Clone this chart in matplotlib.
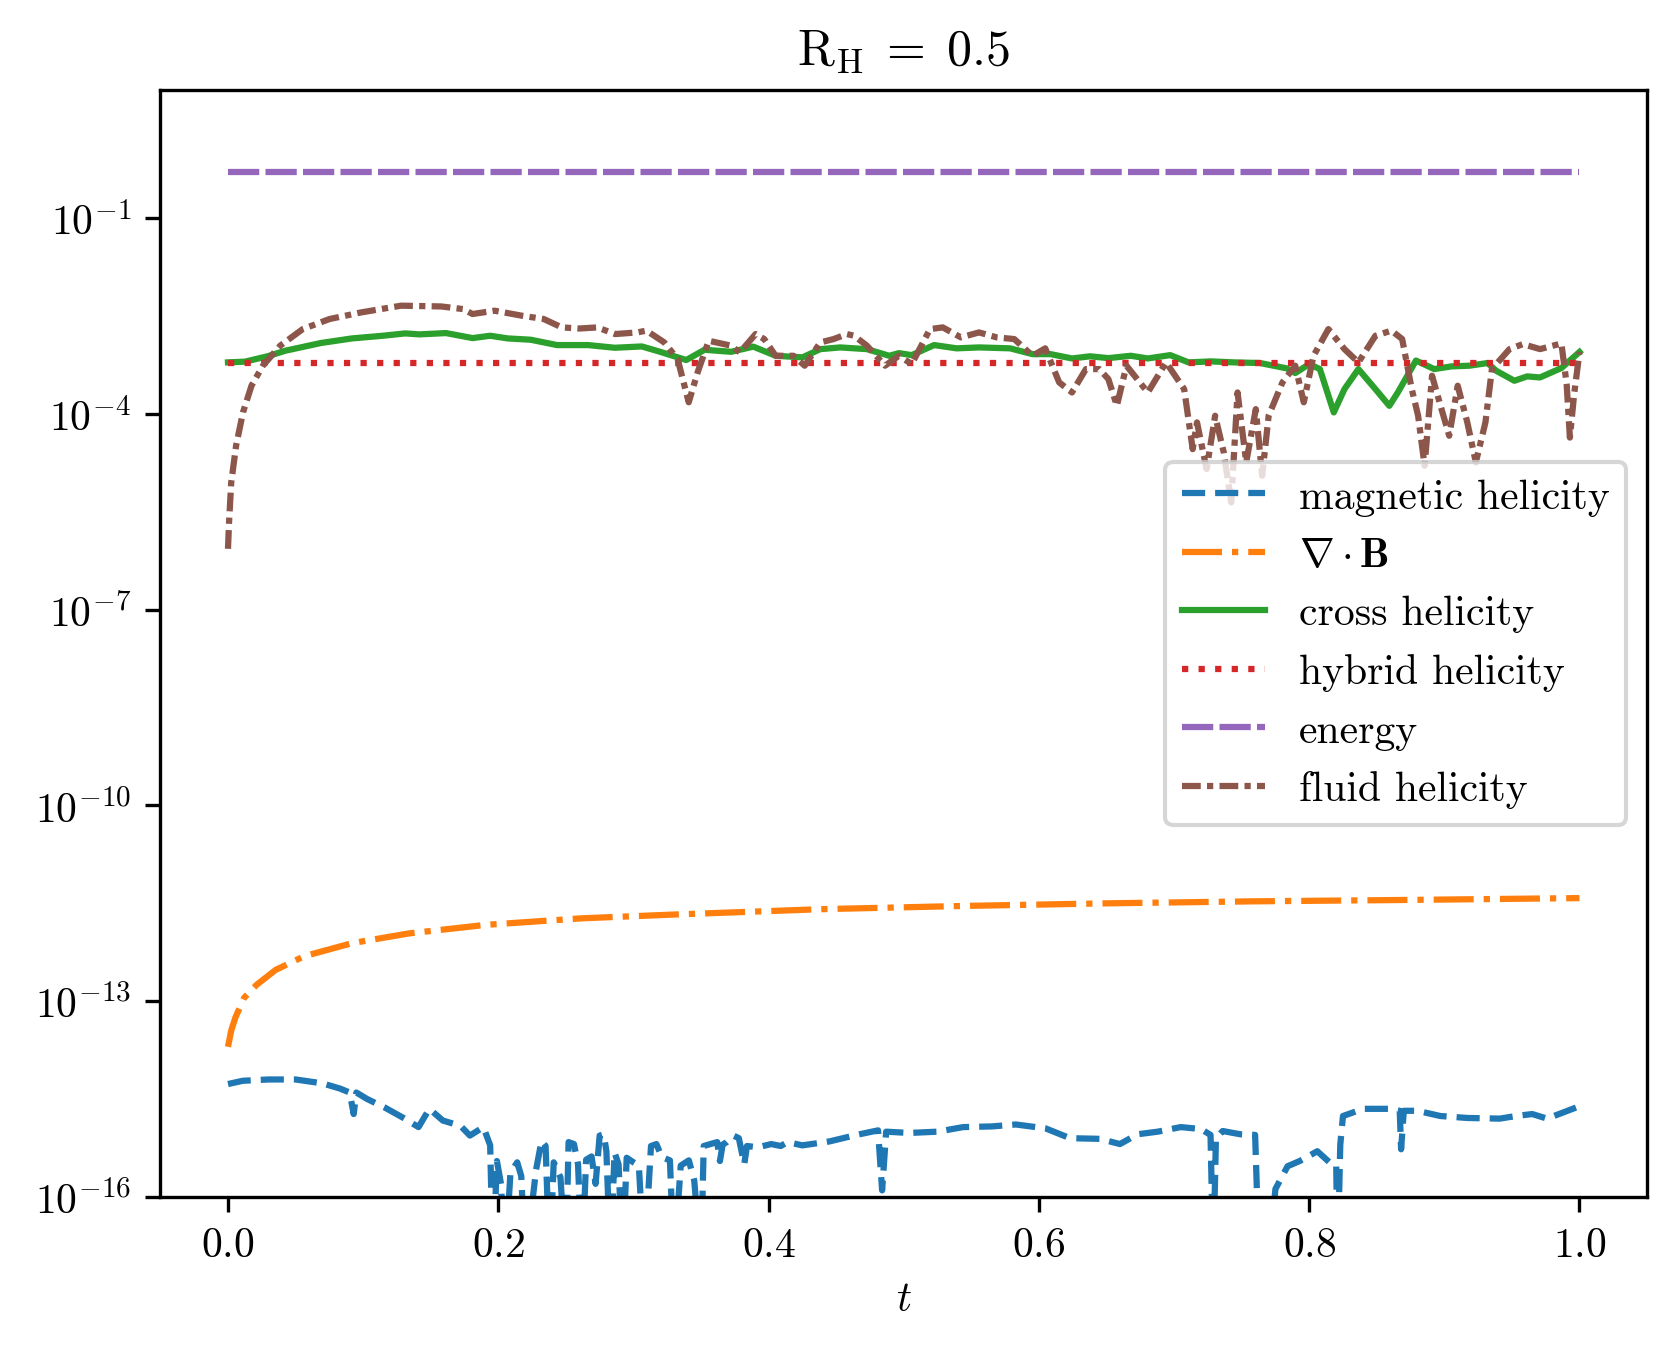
import numpy as np
import matplotlib
matplotlib.use('Agg')
import matplotlib.pyplot as plt
from matplotlib.ticker import FuncFormatter, NullLocator

plt.rcParams['font.family'] = 'serif'
plt.rcParams['font.serif'] = ['cmr10']
plt.rcParams['mathtext.fontset'] = 'cm'
plt.rcParams['axes.formatter.use_mathtext'] = True

# values, stored as log10 of the quantity
t_mag = [0.0, 0.011, 0.030, 0.050, 0.070, 0.083, 0.090, 0.093, 0.095, 0.103, 0.116, 0.129, 0.141,
         0.149, 0.159, 0.172, 0.179, 0.189, 0.194, 0.196, 0.199, 0.202, 0.205, 0.209, 0.214, 0.217,
         0.220, 0.228, 0.232, 0.235, 0.238, 0.241, 0.246, 0.250, 0.252, 0.256, 0.259, 0.262, 0.265,
         0.269, 0.272, 0.275, 0.278, 0.280, 0.283, 0.286, 0.289, 0.292, 0.295, 0.300, 0.304, 0.308,
         0.313, 0.317, 0.321, 0.327, 0.330, 0.335, 0.341, 0.345, 0.350, 0.352, 0.357, 0.362, 0.364,
         0.366, 0.369, 0.374, 0.378, 0.382, 0.384, 0.392, 0.402, 0.409, 0.414, 0.425, 0.445, 0.465,
         0.481, 0.484, 0.487, 0.504, 0.525, 0.544, 0.565, 0.583, 0.605, 0.623, 0.645, 0.660, 0.673,
         0.688, 0.705, 0.720, 0.727, 0.729, 0.731, 0.736, 0.749, 0.760, 0.763, 0.770, 0.775, 0.784,
         0.793, 0.806, 0.815, 0.820, 0.821, 0.823, 0.825, 0.840, 0.860, 0.867, 0.868, 0.870, 0.880,
         0.897, 0.917, 0.941, 0.953, 0.965, 0.976, 1.0]
log_mag = [-14.27, -14.22, -14.20, -14.20, -14.26, -14.34, -14.40, -14.73, -14.40, -14.50, -14.63,
           -14.78, -14.93, -14.65, -14.83, -14.91, -15.06, -14.93, -15.21, -17, -15.45, -15.8, -17,
           -15.63, -15.47, -15.68, -17, -15.58, -15.14, -15.22, -17, -15.47, -15.7, -17, -15.16,
           -15.19, -15.5, -17, -15.43, -15.38, -15.8, -15.06, -15.04, -15.3, -17, -15.32, -15.5, -17,
           -15.4, -15.47, -15.52, -17, -15.22, -15.19, -15.39, -15.44, -17, -15.52, -15.44, -15.75,
           -17, -15.22, -15.19, -15.16, -15.45, -15.2, -15.16, -15.06, -15.1, -15.5, -15.22, -15.24,
           -15.19, -15.22, -15.16, -15.21, -15.15, -15.05, -14.98, -15.9, -15.0, -15.02, -15.0,
           -14.93, -14.92, -14.89, -14.95, -15.10, -15.11, -15.19, -15.04, -15.0, -14.93, -14.96,
           -15.05, -17, -15.1, -14.99, -15.04, -15.05, -17, -17, -15.88, -15.53, -15.45, -15.3,
           -15.47, -15.5, -17, -15.2, -14.76, -14.65, -14.65, -14.68, -15.27, -14.68, -14.68, -14.76,
           -14.79, -14.8, -14.76, -14.73, -14.8, -14.61]

t_divb = [0.0, 0.0024, 0.0055, 0.0119, 0.0211, 0.0353, 0.0565, 0.0919, 0.1343, 0.1908, 0.2616,
          0.3323, 0.4384, 0.5445, 0.6506, 0.7567, 0.8628, 1.0]
log_divb = [-13.70, -13.45, -13.25, -12.95, -12.75, -12.52, -12.31, -12.11, -11.96, -11.83, -11.73,
            -11.67, -11.59, -11.54, -11.50, -11.47, -11.45, -11.42]

t_cross = [0.0, 0.0126, 0.0292, 0.0423, 0.0688, 0.0917, 0.1146, 0.1312, 0.1415, 0.1613, 0.181,
           0.194, 0.207, 0.224, 0.2435, 0.2664, 0.2862, 0.3062, 0.3194, 0.3391, 0.3526, 0.3723,
           0.3887, 0.4052, 0.4251, 0.4383, 0.4530, 0.4727, 0.4893, 0.4964, 0.5059, 0.5225, 0.5391,
           0.5557, 0.5787, 0.5953, 0.6087, 0.6245, 0.6379, 0.6514, 0.668, 0.6806, 0.6972, 0.7107,
           0.7273, 0.7439, 0.7636, 0.7834, 0.7897, 0.8, 0.8079, 0.8182, 0.8261, 0.8364, 0.849,
           0.8593, 0.8656, 0.879, 0.8925, 0.9051, 0.9186, 0.932, 0.9383, 0.9518, 0.9613, 0.9708,
           0.9866, 1.0]
log_cross = [-3.208, -3.197, -3.115, -3.030, -2.911, -2.841, -2.800, -2.764, -2.779, -2.759, -2.836,
             -2.800, -2.841, -2.861, -2.943, -2.943, -2.984, -2.964, -3.044, -3.172, -3.015, -3.046,
             -2.967, -3.107, -3.131, -3.005, -2.979, -3.005, -3.107, -3.066, -3.097, -2.943, -2.993,
             -2.979, -2.993, -3.082, -3.082, -3.148, -3.115, -3.143, -3.107, -3.148, -3.097, -3.208,
             -3.193, -3.208, -3.218, -3.300, -3.372, -3.234, -3.311, -3.975, -3.618, -3.311, -3.618,
             -3.874, -3.669, -3.180, -3.311, -3.270, -3.259, -3.218, -3.336, -3.490, -3.423, -3.439,
             -3.295, -3.049]

t_fluid = [0.0, 0.0008, 0.0024, 0.006, 0.0111, 0.0174, 0.0258, 0.0387, 0.0553, 0.0751, 0.0983,
           0.1281, 0.1578, 0.1742, 0.1809, 0.1973, 0.2172, 0.2337, 0.2469, 0.2601, 0.2732, 0.2865,
           0.3029, 0.3096, 0.3228, 0.3327, 0.3409, 0.3475, 0.3557, 0.3723, 0.3787, 0.3904, 0.3968,
           0.4052, 0.4184, 0.4267, 0.4383, 0.4481, 0.458, 0.4632, 0.4727, 0.4862, 0.4964, 0.5059,
           0.5194, 0.5289, 0.5423, 0.5557, 0.5688, 0.5818, 0.5953, 0.6047, 0.615, 0.6245, 0.6348,
           0.6447, 0.6514, 0.6577, 0.6648, 0.6806, 0.6941, 0.7075, 0.7138, 0.717, 0.7241, 0.7304,
           0.7368, 0.7423, 0.747, 0.7534, 0.7605, 0.7652, 0.77, 0.7802, 0.7897, 0.796, 0.8032,
           0.8142, 0.8261, 0.8364, 0.849, 0.8609, 0.8688, 0.8759, 0.8806, 0.8854, 0.8909, 0.8972,
           0.9036, 0.9099, 0.917, 0.9233, 0.9304, 0.9352, 0.9482, 0.9581, 0.9708, 0.9866, 0.9905,
           0.9929, 0.996, 1.0]
log_fluid = [-6.066, -5.656, -5.049, -4.485, -3.975, -3.566, -3.259, -2.951, -2.698, -2.544, -2.443,
             -2.339, -2.351, -2.392, -2.467, -2.416, -2.492, -2.544, -2.672, -2.689, -2.672, -2.774,
             -2.749, -2.721, -2.902, -3.157, -3.820, -3.361, -2.877, -2.952, -3.056, -2.774, -2.851,
             -3.107, -3.107, -3.259, -2.902, -2.851, -2.774, -2.800, -2.951, -3.259, -3.107, -3.234,
             -2.698, -2.672, -2.825, -2.749, -2.825, -2.851, -3.107, -2.993, -3.515, -3.669, -3.311,
             -3.311, -3.464, -3.874, -3.259, -3.669, -3.208, -3.618, -4.538, -4.128, -4.844, -4.026,
             -4.589, -5.354, -3.669, -4.741, -3.925, -4.946, -4.026, -3.515, -3.259, -3.820, -3.107,
             -2.698, -3.005, -3.208, -2.800, -2.721, -2.851, -3.618, -4.026, -4.793, -3.413, -3.874,
             -4.333, -3.566, -4.128, -4.741, -4.128, -3.311, -3.005, -2.928, -3.005, -2.918, -3.541,
             -4.361, -3.705, -3.049]

t_const = [0.0, 1.0]
hybrid = [6.1e-4, 6.1e-4]
energy = [0.507, 0.507]

ytick_exps = [-16, -13, -10, -7, -4, -1]

fig = plt.figure(figsize=(5.59, 4.4933), dpi=300)
ax = fig.add_axes([0.09565, 0.11135, 0.8865, 0.8212])

ax.plot(t_mag, 10.0 ** np.array(log_mag), linestyle='--', color='C0', label='magnetic helicity')
ax.plot(t_divb, 10.0 ** np.array(log_divb), linestyle='-.', color='C1', label=r'$\nabla \cdot \mathbf{B}$')
ax.plot(t_cross, 10.0 ** np.array(log_cross), linestyle='-', color='C2', label='cross helicity')
ax.plot(t_const, hybrid, linestyle=':', color='C3', label='hybrid helicity')
ax.plot(t_const, energy, linestyle=(0, (5, 1)), color='C4', label='energy')
ax.plot(t_fluid, 10.0 ** np.array(log_fluid), linestyle=(0, (3, 1, 1, 1)), color='C5', label='fluid helicity')

ax.set_yscale('log')
ax.set_ylim(1e-16, 10 ** 0.968)
ax.set_xlim(-0.05, 1.05)
ax.set_yticks([10.0 ** e for e in ytick_exps])
ax.yaxis.set_minor_locator(NullLocator())
ax.yaxis.set_major_formatter(FuncFormatter(lambda v, p: r'$10^{%d}$' % round(np.log10(v))))
ax.set_xlabel(r'$t$')
ax.set_title(r'$\mathrm{R}_\mathrm{H}\;=\;0.5$')
ax.legend(loc='center right')

fig.savefig('out.png', dpi=300)
